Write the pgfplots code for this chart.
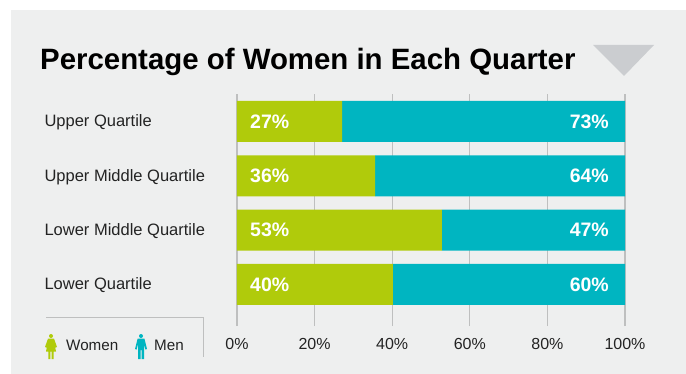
\documentclass[border=0pt]{standalone}
\usepackage{pgfplots}
\usepackage{fontspec}
\setmainfont{Liberation Sans}
\pgfplotsset{compat=1.18}
\definecolor{panel}{RGB}{238,239,239}
\definecolor{women}{RGB}{176,203,11}
\definecolor{men}{RGB}{0,181,193}
\definecolor{gridc}{RGB}{190,191,191}
\definecolor{tri}{RGB}{203,205,208}
\definecolor{txt}{RGB}{35,35,35}
\pgfplotstableread{
pos women men
3 27.1 72.9
2 35.6 64.4
1 52.8 47.2
0 40.2 59.8
}\quartiles
% icons, x y = top left of the figure
\newcommand{\womanicon}[3]{%
  \begin{scope}[shift={(#1,#2)},x=1pt,y=-1pt]
    \fill[#3] (6,2) circle (2);
    \fill[#3] (3,4.6) -- (9,4.6) -- (12,13) -- (10.4,13.6) -- (9.6,10) -- (11,17.5) -- (8.7,17.5)
      -- (8.7,25) -- (6.6,25) -- (6.6,17.5) -- (5.4,17.5) -- (5.4,25) -- (3.3,25) -- (3.3,17.5)
      -- (1,17.5) -- (2.4,10) -- (1.6,13.6) -- (0,13) -- cycle;
  \end{scope}}
\newcommand{\manicon}[3]{%
  \begin{scope}[shift={(#1,#2)},x=1pt,y=-1pt]
    \fill[#3] (6,2) circle (2);
    \fill[#3] (2.6,4.6) -- (9.4,4.6) -- (12,15) -- (10.4,15.6) -- (9,10) -- (9,25) -- (6.5,25)
      -- (6.5,16) -- (5.5,16) -- (5.5,25) -- (3,25) -- (3,10) -- (1.6,15.6) -- (0,15) -- cycle;
  \end{scope}}
\tikzset{barlab/.style={text=white,inner sep=0pt,font=\bfseries\fontsize{19.5}{21}\selectfont}}
\begin{document}
\begin{tikzpicture}[x=1pt,y=1pt]
\path[use as bounding box] (0,0) rectangle (686,-374);
\fill[panel] (11,-10) rectangle (686,-374);
\node[anchor=base west,inner sep=0pt,font=\bfseries\fontsize{29.4}{31}\selectfont] at (40,-70) {Percentage of Women in Each Quarter};
\fill[tri] (593,-45) -- (654,-45) -- (624,-76) -- cycle;
\begin{axis}[
    at={(237pt,-326pt)},anchor=south west,
    scale only axis,width=388pt,height=231.7pt,
    xbar stacked,bar width=41pt,
    xmin=0,xmax=100,ymin=-0.764,ymax=3.5,
    xtick={0,20,40,60,80,100},
    xticklabels={0\%,20\%,40\%,60\%,80\%,100\%},
    ytick={0,1,2,3},
    yticklabels={Lower Quartile,Lower Middle Quartile,Upper Middle Quartile,Upper Quartile},
    xmajorgrids,
    grid style={gridc,line width=1.2pt},
    axis line style={draw=none},
    tick style={draw=none},
    ticklabel style={font=\fontsize{16}{18}\selectfont,text=txt},
    xticklabel style={yshift=-9pt},
    yticklabel style={anchor=west,xshift=-196pt,yshift=-1pt,font=\fontsize{16.5}{18}\selectfont},
    clip=false,
  ]
  \addplot[draw=none,fill=women] table[x=women,y=pos] {\quartiles};
  \addplot[draw=none,fill=men] table[x=men,y=pos] {\quartiles};
\end{axis}
% bar labels go after the axis, stacked bars cover nodes put inside it
\node[barlab,anchor=west] at (250,-121.5) {27\%};
\node[barlab,anchor=west] at (250,-175.5) {36\%};
\node[barlab,anchor=west] at (250,-230) {53\%};
\node[barlab,anchor=west] at (250,-284.5) {40\%};
\node[barlab,anchor=east] at (609,-121.5) {73\%};
\node[barlab,anchor=east] at (609,-175.5) {64\%};
\node[barlab,anchor=east] at (609,-230) {47\%};
\node[barlab,anchor=east] at (609,-284.5) {60\%};
\draw[gridc,line width=1pt] (46,-318) -- (203,-318) -- (203,-357);
\womanicon{45}{-334}{women}
\manicon{135}{-334}{men}
\node[anchor=base west,inner sep=0pt,text=txt,font=\fontsize{15.2}{18}\selectfont] at (66,-351) {Women};
\node[anchor=base west,inner sep=0pt,text=txt,font=\fontsize{15.2}{18}\selectfont] at (154,-351) {Men};
\end{tikzpicture}
\end{document}
